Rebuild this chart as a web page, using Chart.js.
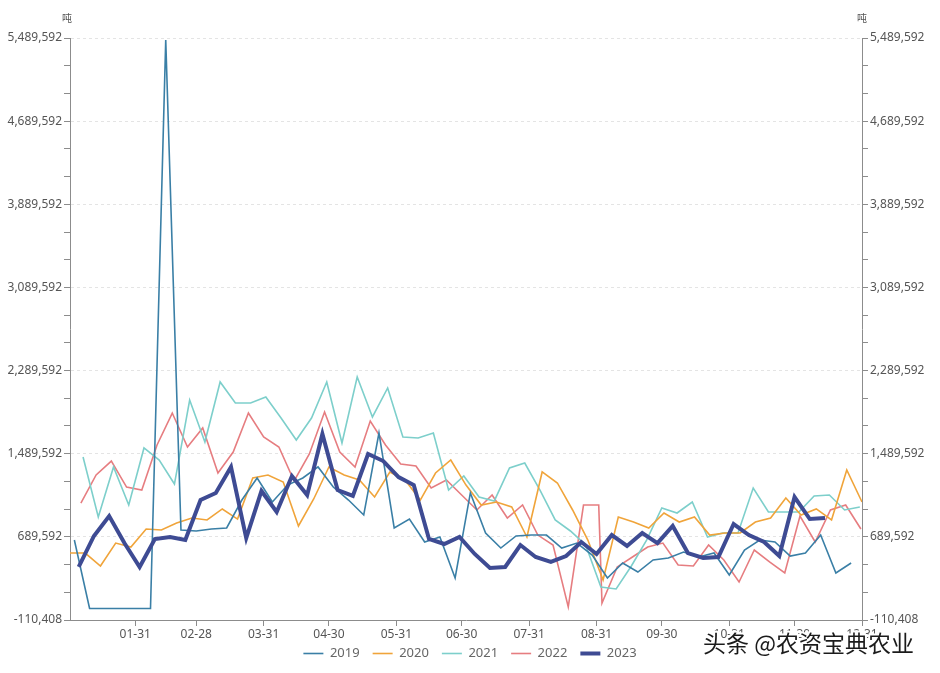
<!DOCTYPE html>
<html>
<head>
<meta charset="utf-8">
<script src="https://cdn.jsdelivr.net/npm/chart.js@4.4.0/dist/chart.umd.min.js"></script>
<style>
  html, body { margin: 0; padding: 0; background: #fff; }
  #wrap { width: 940px; height: 673px; }
</style>
</head>
<body>
<div id="wrap"><canvas id="chart" width="940" height="673"></canvas></div>
<script>
// axis labels
const xTickLabels = ['01-31', '02-28', '03-31', '04-30', '05-31', '06-30', '07-31', '08-31', '09-30', '10-31', '11-30', '12-31'];
const xTickDays = [30, 58, 89, 119, 150, 180, 211, 242, 272, 303, 333, 364];
const yTickValues = [-110408, 689592, 1489592, 2289592, 3089592, 3889592, 4689592, 5489592];
const unitLabel = '吨';
const watermark = '头条 @农资宝典农业';

const years = ['2019', '2020', '2021', '2022', '2023'];

// weekly values (吨)
const v2019 = [659000, 0, 0, 0, 0, 0, 5470000, 756000, 746000, 765000,
    775000, 1044000, 1256000, 1025000, 1188000, 1256000, 1362000, 1169000, 1044000, 900000,
    1689000, 775000, 861000, 640000, 688000, 294000, 1112000, 727000, 582000, 698000,
    707000, 707000, 582000, 630000, 515000, 294000, 438000, 351000, 467000, 486000,
    544000, 496000, 534000, 323000, 563000, 659000, 640000, 505000, 534000, 707000,
    342000, 438000];
const v2020 = [534000, 534000, 409000, 630000, 592000, 765000, 756000, 823000, 871000, 852000,
    958000, 861000, 1256000, 1285000, 1217000, 794000, 1054000, 1362000, 1285000, 1237000,
    1073000, 1314000, 1237000, 1044000, 1304000, 1429000, 1188000, 996000, 1025000, 977000,
    688000, 1314000, 1208000, 948000, 659000, 274000, 881000, 832000, 775000, 919000,
    832000, 881000, 707000, 727000, 727000, 832000, 871000, 1063000, 900000, 958000,
    852000, 1333000, 1025000];
const v2021 = [1458000, 881000, 1362000, 996000, 1545000, 1429000, 1198000, 2006000, 1602000, 2180000,
    1978000, 1978000, 2035000, 1833000, 1621000, 1833000, 2180000, 1593000, 2228000, 1843000,
    2122000, 1650000, 1641000, 1689000, 1140000, 1275000, 1073000, 1035000, 1352000, 1400000,
    1140000, 852000, 746000, 611000, 207000, 188000, 409000, 659000, 967000, 919000,
    1025000, 688000, 727000, 727000, 1160000, 929000, 929000, 929000, 1083000, 1092000,
    948000, 977000];
const v2022 = [1015000, 1285000, 1419000, 1169000, 1140000, 1574000, 1881000, 1554000, 1737000, 1304000,
    1506000, 1881000, 1650000, 1554000, 1227000, 1487000, 1891000, 1506000, 1362000, 1804000,
    1574000, 1391000, 1371000, 1160000, 1237000, 1092000, 948000, 1092000, 871000, 996000,
    707000, 611000, 15000, 996000, 996000, 53000, 400000, 496000, 592000, 630000,
    419000, 409000, 611000, 467000, 255000, 563000, 448000, 342000, 890000, 640000,
    948000, 996000, 765000];
const v2023 = [400000, 698000, 890000, 630000, 400000, 669000, 688000, 659000, 1044000, 1112000,
    1362000, 678000, 1131000, 929000, 1275000, 1092000, 1679000, 1140000, 1083000, 1487000,
    1419000, 1265000, 1188000, 669000, 621000, 688000, 525000, 390000, 400000, 611000,
    496000, 448000, 505000, 640000, 525000, 707000, 602000, 727000, 630000, 794000,
    534000, 486000, 496000, 813000, 707000, 640000, 505000, 1073000, 861000, 871000];

// day of year of the first weekly report in each year
const firstDay2019 = 2;
const firstDay2020 = 0;
const firstDay2021 = 6;
const firstDay2022 = 5;
const firstDay2023 = 4;

const colors = ['#3a7fa6', '#f0a43a', '#7dcfcb', '#e67d80', '#3e4b93'];
const widths = [1.6, 1.6, 1.6, 1.6, 4];

function weekly(start, n) {
    return Array.from({length: n}, (_, i) => start + i * 7);
}

function pairs(days, values) {
    return values.map((v, i) => ({x: days[i], y: v}));
}

// 2022 has one extra report right after the late-August one
const days2022 = weekly(firstDay2022, 35).concat(weekly(244.5, 18));

const seriesData = [
    pairs(weekly(firstDay2019, v2019.length), v2019),
    pairs(weekly(firstDay2020, v2020.length), v2020),
    pairs(weekly(firstDay2021, v2021.length), v2021),
    pairs(days2022, v2022),
    pairs(weekly(firstDay2023, v2023.length), v2023)
];

// major ticks carry labels, two unlabeled minor ticks between them
const yStep = (yTickValues[1] - yTickValues[0]) / 3;
const yAllTicks = [];
for (let v = yTickValues[0]; v <= yTickValues[yTickValues.length - 1] + 1; v += yStep) {
    yAllTicks.push(Math.round(v));
}

const fontFamily = "'Noto Sans', 'Open Sans', sans-serif";

function yAxis(position) {
    return {
        type: 'linear',
        position: position,
        min: yTickValues[0],
        max: yTickValues[yTickValues.length - 1],
        afterBuildTicks: (scale) => { scale.ticks = yAllTicks.map(v => ({value: v})); },
        afterFit: (scale) => { scale.width = position === 'left' ? 70 : 78; },
        border: { display: true, color: '#8c8c8c', width: 1, dash: [3, 3] },
        grid: {
            drawOnChartArea: position === 'left',
            color: (ctx) => (ctx.index % 3 === 0 ? '#e4e4e4' : 'rgba(0,0,0,0)'),
            tickColor: '#8c8c8c',
            tickLength: 6,
            lineWidth: 1
        },
        ticks: {
            padding: 2,
            color: '#555',
            font: { family: fontFamily, size: 12 },
            callback: (value, index) => (index % 3 === 0 ? value.toLocaleString('en-US') : '')
        }
    };
}

const datasets = years.map((y, i) => ({
    label: y,
    data: seriesData[i],
    borderColor: colors[i],
    backgroundColor: colors[i],
    borderWidth: widths[i],
    pointRadius: 0,
    tension: 0,
    fill: false,
    order: i === 4 ? -1 : i
}));

const extras = {
    id: 'extras',
    afterLayout(chart) {
        // x axis box is kept short so the legend sits close; give its labels room to draw
        const x = chart.scales.x;
        x.bottom = x.top + 24;
    },
    afterDraw(chart) {
        const {ctx, chartArea} = chart;
        ctx.save();
        ctx.font = "10px 'Noto Sans CJK SC', sans-serif";
        ctx.fillStyle = '#555';
        ctx.textAlign = 'center';
        ctx.textBaseline = 'middle';
        ctx.fillText(unitLabel, chartArea.left - 3, 18);
        ctx.fillText(unitLabel, chartArea.right, 18);

        ctx.font = "23px 'Noto Sans CJK SC', sans-serif";
        ctx.textAlign = 'left';
        ctx.textBaseline = 'alphabetic';
        ctx.lineWidth = 4;
        ctx.strokeStyle = '#fff';
        ctx.lineJoin = 'round';
        ctx.strokeText(watermark, 703, 652);
        ctx.fillStyle = '#1b1b1b';
        ctx.fillText(watermark, 703, 652);
        ctx.restore();
    }
};

new Chart(document.getElementById('chart'), {
    type: 'line',
    data: { datasets: datasets },
    plugins: [extras],
    options: {
        responsive: false,
        animation: false,
        layout: { padding: { top: 38, bottom: 3, left: 0, right: 0 } },
        plugins: {
            tooltip: { enabled: false },
            legend: {
                position: 'bottom',
                labels: {
                    usePointStyle: true,
                    pointStyle: 'line',
                    pointStyleWidth: 20,
                    padding: 13,
                    color: '#666',
                    font: { family: fontFamily, size: 13 },
                    sort: (a, b) => a.datasetIndex - b.datasetIndex
                }
            }
        },
        scales: {
            x: {
                type: 'linear',
                min: 0,
                max: 364,
                afterBuildTicks: (scale) => { scale.ticks = xTickDays.map(d => ({value: d})); },
                afterFit: (scale) => { scale.height = 14; },
                border: { display: true, color: '#8c8c8c', width: 1 },
                grid: { drawOnChartArea: false, tickColor: '#8c8c8c', tickLength: 6 },
                ticks: {
                    padding: 1,
                    maxRotation: 0,
                    autoSkip: false,
                    color: '#555',
                    font: { family: fontFamily, size: 12 },
                    callback: (value, index) => xTickLabels[index]
                }
            },
            y: yAxis('left'),
            y2: yAxis('right')
        }
    }
});
</script>
</body>
</html>
